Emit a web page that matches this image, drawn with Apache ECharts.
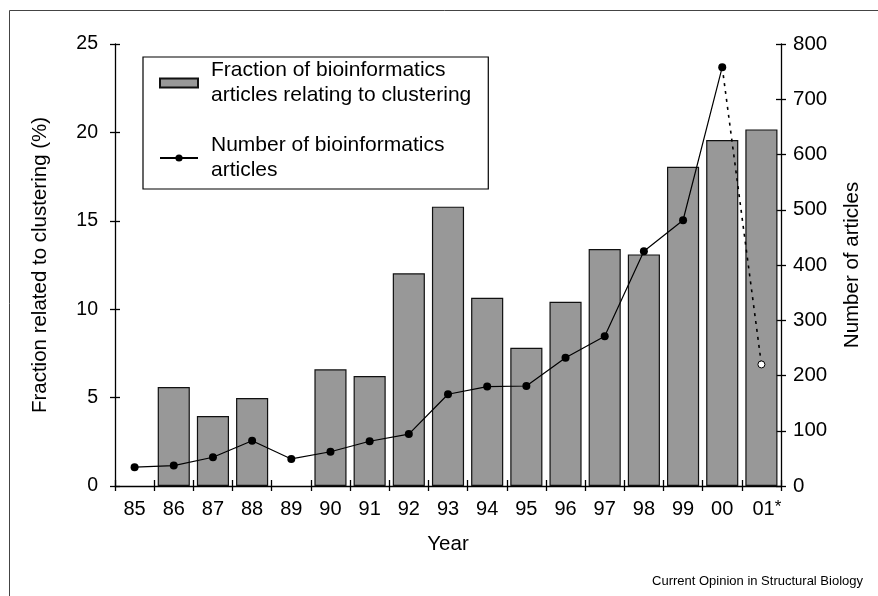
<!DOCTYPE html>
<html>
<head>
<meta charset="utf-8">
<script src="https://cdn.jsdelivr.net/npm/echarts@6/dist/echarts.min.js"></script>
<style>html,body{margin:0;padding:0;background:#fff}#c{width:878px;height:596px}</style>
</head>
<body>
<div id="c"></div>
<script>
// Data
const years = ['85','86','87','88','89','90','91','92','93','94','95','96','97','98','99','00','01'];
const fractionPct = [null, 5.6, 3.96, 4.98, null, 6.6, 6.22, 12.03, 15.8, 10.65, 7.82, 10.42, 13.4, 13.1, 18.06, 19.57, 20.17];
const articleCounts = [34, 37, 52, 82, 49, 62, 81, 94, 166, 180, 181, 232, 271, 425, 481, 758, 220];
const partialYearIndex = 16; // '01*' is a partial-year estimate
const leftTicks = [0, 5, 10, 15, 20, 25];
const rightTicks = [0, 100, 200, 300, 400, 500, 600, 700, 800];

const FONT = "'Liberation Sans', Arial, sans-serif";
const solidCounts = articleCounts.map((v, i) => i < partialYearIndex ? v : null);
const dottedCounts = articleCounts.map((v, i) => i >= partialYearIndex - 1 ? v : null);

const chart = echarts.init(document.getElementById('c'), null, {renderer: 'canvas'});
const axisLineStyle = {color: '#000', width: 1.3};
const baseY = (pos, interval, ticks, show, fontSize, margin) => ({
  type: 'value', gridIndex: 0, position: pos,
  min: ticks[0], max: ticks[ticks.length - 1], interval: interval,
  axisLine: {show: show, lineStyle: axisLineStyle},
  axisTick: {show: true, inside: !show, length: 5, lineStyle: axisLineStyle},
  axisLabel: {show: show, color: '#000', fontSize: fontSize, fontFamily: FONT, margin: margin},
  splitLine: {show: false}
});

const yLeft = baseY('left', 5, leftTicks, true, 19.5, 17);
yLeft.name = 'Fraction related to clustering (%)';
yLeft.nameLocation = 'middle';
yLeft.nameRotate = 90;
yLeft.nameGap = 64;
yLeft.nameTextStyle = {color: '#000', fontSize: 20.5, fontFamily: FONT};
const yRight = baseY('right', 100, rightTicks, true, 20.5, 12);
yRight.name = 'Number of articles';
yRight.nameLocation = 'middle';
yRight.nameRotate = 90;
yRight.nameGap = 61;
yRight.nameTextStyle = {color: '#000', fontSize: 20.5, fontFamily: FONT};
const yLeftIn = baseY('left', 5, leftTicks, false, 19.5, 17);
const yRightIn = baseY('right', 100, rightTicks, false, 20.5, 12);

const option = {
  animation: false,
  backgroundColor: '#fff',
  textStyle: {fontFamily: FONT},
  grid: {left: 115, right: 97, top: 44, bottom: 110, containLabel: false},
  legend: {
    show: true,
    data: [
      {name: 'Fraction of bioinformatics\narticles relating to clustering', icon: 'rect'},
      {name: 'Number of bioinformatics\narticles'}
    ],
    orient: 'vertical',
    left: 143, top: 57,
    padding: [1, 17, 6, 16],
    itemGap: 25,
    itemWidth: 38, itemHeight: 9,
    borderColor: '#000', borderWidth: 1.2,
    backgroundColor: '#fff',
    selectedMode: false,
    textStyle: {color: '#000', fontSize: 21, fontFamily: FONT, lineHeight: 25, padding: [0, 0, 0, 8]}
  },
  xAxis: [{
    type: 'category', data: years, position: 'bottom',
    name: 'Year', nameLocation: 'middle', nameGap: 48,
    nameTextStyle: {color: '#000', fontSize: 20.5, fontFamily: FONT},
    axisLine: {lineStyle: axisLineStyle},
    axisTick: {show: true, length: 5, lineStyle: axisLineStyle},
    axisLabel: {
      color: '#000', fontSize: 20, fontFamily: FONT, margin: 13, interval: 0,
      formatter: (v, i) => i === partialYearIndex ? '{p|}' + v + '{a|*}' : v,
      rich: {
        p: {width: 11, fontSize: 20, fontFamily: FONT},
        a: {fontSize: 17, fontFamily: FONT, color: '#000', verticalAlign: 'top'}
      }
    }
  }, {
    type: 'category', data: years, position: 'bottom',
    axisLine: {show: false},
    axisTick: {show: true, inside: true, length: 6, lineStyle: axisLineStyle},
    axisLabel: {show: false}
  }],
  yAxis: [yLeft, yRight, yLeftIn, yRightIn],
  series: [{
    name: 'Fraction of bioinformatics\narticles relating to clustering',
    type: 'bar', xAxisIndex: 0, yAxisIndex: 0,
    data: fractionPct,
    barCategoryGap: '18%',
    itemStyle: {color: '#989898', borderColor: '#111', borderWidth: 1.2},
    z: 2
  }, {
    name: 'Number of bioinformatics\narticles',
    type: 'line', xAxisIndex: 0, yAxisIndex: 1,
    data: solidCounts,
    connectNulls: false,
    symbol: 'circle', symbolSize: 8,
    itemStyle: {color: '#000'},
    lineStyle: {color: '#000', width: 1.2},
    z: 4
  }, {
    name: 'partial',
    type: 'line', xAxisIndex: 0, yAxisIndex: 1,
    data: dottedCounts.map((v, i) => i === partialYearIndex
      ? {value: v, symbol: 'circle', symbolSize: 7, itemStyle: {color: '#fff', borderColor: '#000', borderWidth: 1}}
      : {value: v, symbol: 'none'}),
    showSymbol: true,
    lineStyle: {color: '#000', width: 1.6, type: [3, 5]},
    z: 3
  }],
  graphic: [{
    type: 'rect', silent: true, z: -10,
    shape: {x: 9.5, y: 10.5, width: 900, height: 620},
    style: {fill: 'none', stroke: '#444', lineWidth: 1}
  }, {
    type: 'text', right: 15, top: 575,
    style: {text: 'Current Opinion in Structural Biology', fill: '#000', fontSize: 13, fontFamily: FONT}
  }]
};
chart.setOption(option);
</script>
</body>
</html>
